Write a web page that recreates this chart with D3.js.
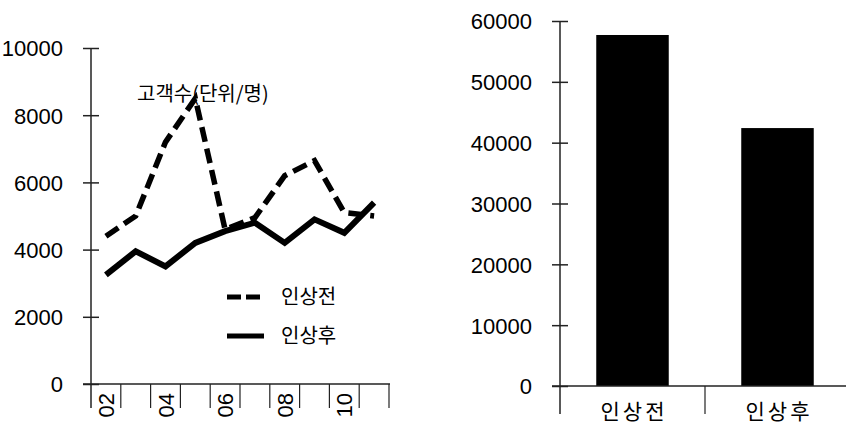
<!DOCTYPE html>
<html>
<head>
<meta charset="utf-8">
<script src="https://cdn.jsdelivr.net/npm/d3@7/dist/d3.min.js"></script>
<style>
  html, body { margin: 0; padding: 0; background: #fff; }
  svg { display: block; }
  .num { font-family: "Liberation Sans", Arial, sans-serif; font-size: 22px; fill: #000; }
  .kr { font-family: "Noto Sans CJK KR", sans-serif; fill: #000; }
</style>
</head>
<body>
<svg id="chart" width="846" height="428"></svg>
<script>
// Monthly customer counts before / after the price increase
const months = ["02", "03", "04", "05", "06", "07", "08", "09", "10", "11"];
const shownMonths = ["02", "04", "06", "08", "10"];
const beforeCounts = [4400, 5000, 7200, 8500, 4600, 4950, 6200, 6650, 5100, 5000];
const afterCounts = [3250, 3950, 3500, 4200, 4550, 4800, 4200, 4900, 4500, 5400];
const lineTicks = [0, 2000, 4000, 6000, 8000, 10000];

// Totals
const periods = ["인상전", "인상후"];
const totals = [57700, 42400];
const barTicks = [0, 10000, 20000, 30000, 40000, 50000, 60000];

const svg = d3.select("#chart");
const axisColor = "#222";

// ---------- left: line chart ----------
const x = d3.scaleBand().domain(months).range([91, 389]).padding(0);
const y = d3.scaleLinear().domain([0, 10000]).range([384, 48]);

const left = svg.append("g");

// vertical axis with ticks crossing the line
const yAxis = left.append("g")
  .attr("transform", "translate(91,0)")
  .call(d3.axisLeft(y).tickValues(lineTicks).tickSize(8).tickPadding(20).tickFormat(d3.format("d")));
yAxis.select(".domain").remove();
yAxis.selectAll(".tick line").attr("x1", 8).attr("x2", -8).attr("stroke", axisColor).attr("stroke-width", 1.5);
yAxis.selectAll(".tick text").attr("class", "num").attr("font-size", null).attr("font-family", null)
  .attr("dy", "0.36em");
left.append("line").attr("x1", 91).attr("x2", 91).attr("y1", y(10000)).attr("y2", 408)
  .attr("stroke", axisColor).attr("stroke-width", 1.5);

// horizontal axis with band separators
left.append("line").attr("x1", 83).attr("x2", x.range()[1] + 1).attr("y1", y(0)).attr("y2", y(0))
  .attr("stroke", axisColor).attr("stroke-width", 1.5);
const bounds = months.map(m => x(m)).concat([x.range()[1]]);
left.selectAll(".sep").data(bounds.slice(1)).join("line")
  .attr("x1", d => d).attr("x2", d => d).attr("y1", y(0)).attr("y2", 408)
  .attr("stroke", axisColor).attr("stroke-width", 1.2);
left.selectAll(".mlabel").data(shownMonths).join("text")
  .attr("class", "num")
  .attr("font-size", 21)
  .attr("text-anchor", "end")
  .attr("transform", d => `translate(${x(d) + x.bandwidth() / 2 + 8},393) rotate(-90)`)
  .text(d => d);

const line = d3.line()
  .x((d, i) => x(months[i]) + x.bandwidth() / 2)
  .y(d => y(d));

left.append("path").datum(afterCounts)
  .attr("d", line).attr("fill", "none").attr("stroke", "#000")
  .attr("stroke-width", 6).attr("stroke-linejoin", "miter");
left.append("path").datum(beforeCounts)
  .attr("d", line).attr("fill", "none").attr("stroke", "#000")
  .attr("stroke-width", 5.5).attr("stroke-dasharray", "15,7");

left.append("text").attr("class", "kr").attr("font-size", 20)
  .attr("x", 137).attr("y", 101).text("고객수(단위/명)");

// legend
const legend = left.append("g");
[["인상전", "14,5"], ["인상후", null]].forEach(([label, dash], i) => {
  const ly = 297 + i * 39;
  legend.append("line").attr("x1", 227).attr("x2", 264).attr("y1", ly).attr("y2", ly)
    .attr("stroke", "#000").attr("stroke-width", 5)
    .attr("stroke-dasharray", dash);
  legend.append("text").attr("class", "kr").attr("font-size", 20)
    .attr("x", 281).attr("y", ly + 7).text(label);
});

// ---------- right: bar chart ----------
const xb = d3.scaleBand().domain(periods).range([560, 850]).paddingInner(0.5).paddingOuter(0.25);
const yb = d3.scaleLinear().domain([0, 60000]).range([386, 21]);

const right = svg.append("g");
const ybAxis = right.append("g")
  .attr("transform", "translate(560,0)")
  .call(d3.axisLeft(yb).tickValues(barTicks).tickSize(8).tickPadding(20).tickFormat(d3.format("d")));
ybAxis.select(".domain").remove();
ybAxis.selectAll(".tick line").attr("x1", 8).attr("x2", -8).attr("stroke", axisColor).attr("stroke-width", 1.5);
ybAxis.selectAll(".tick text").attr("class", "num").attr("font-size", null).attr("font-family", null)
  .attr("dy", "0.36em");

right.selectAll(".bar").data(totals).join("rect")
  .attr("x", (d, i) => xb(periods[i]))
  .attr("width", xb.bandwidth())
  .attr("y", d => yb(d))
  .attr("height", d => yb(0) - yb(d))
  .attr("fill", "#000");

right.append("line").attr("x1", 560).attr("x2", 560).attr("y1", yb(60000)).attr("y2", 414)
  .attr("stroke", axisColor).attr("stroke-width", 1.5);
right.append("line").attr("x1", 552).attr("x2", 846).attr("y1", yb(0)).attr("y2", yb(0))
  .attr("stroke", axisColor).attr("stroke-width", 1.5);
const midBound = (xb(periods[0]) + xb.bandwidth() + xb(periods[1])) / 2;
right.append("line").attr("x1", midBound).attr("x2", midBound).attr("y1", yb(0)).attr("y2", 414)
  .attr("stroke", axisColor).attr("stroke-width", 1.2);

right.selectAll(".plabel").data(periods).join("text")
  .attr("class", "kr").attr("font-size", 21).attr("letter-spacing", 3)
  .attr("text-anchor", "middle")
  .attr("x", d => xb(d) + xb.bandwidth() / 2 + 1.5)
  .attr("y", 419)
  .text(d => d);
</script>
</body>
</html>
